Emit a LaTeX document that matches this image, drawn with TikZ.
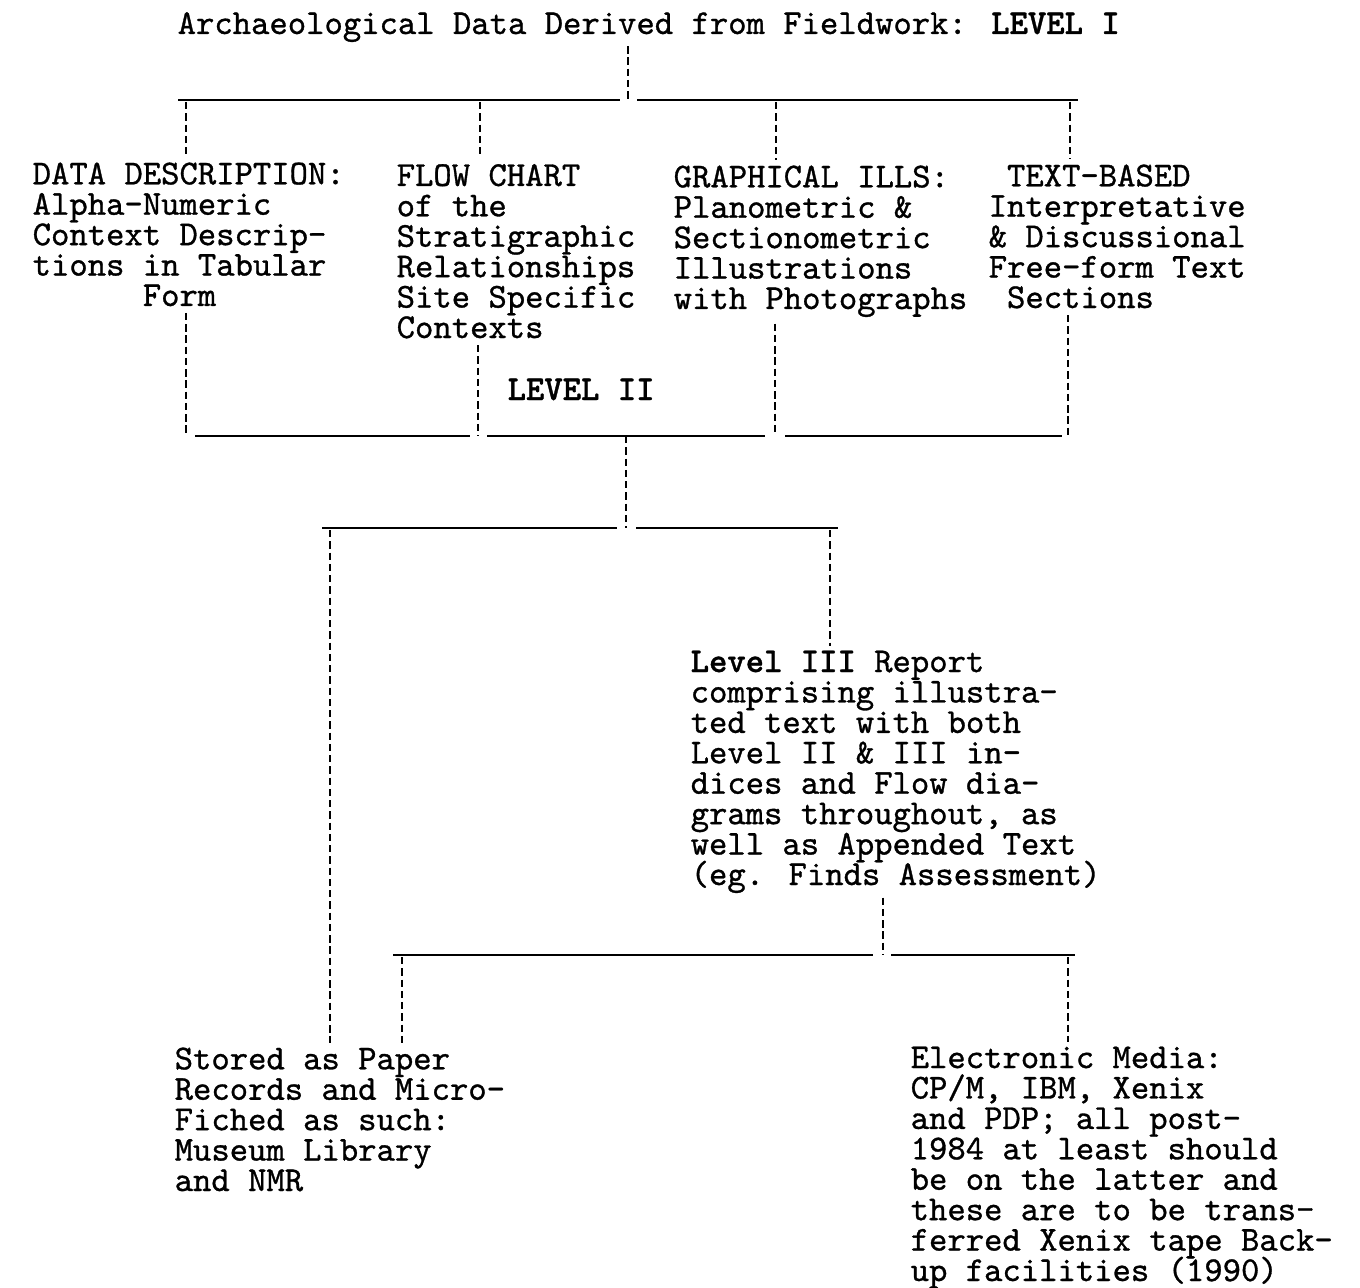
\documentclass[tikz,border=0pt]{standalone}
\usepackage{fontspec}
\setmainfont{lmmono10-regular.otf}[BoldFont=lmmonolt10-bold.otf, FakeBold=0.9]
\newcommand\typedlines{\fontsize{9.94}{8.65}\selectfont\lineskiplimit-20pt\relax}

\begin{document}
\begin{tikzpicture}[x=0.01cm, y=-0.01cm,
            txt/.style={anchor=base west, align=left, inner sep=0pt, font=\typedlines},
            bar/.style={line width=0.65pt},
            drop/.style={line width=0.55pt, dash pattern=on 2.1pt off 1.1pt}]
            \useasboundingbox (0, 0) rectangle (1360, 1288);

            \node [txt] (title) at (177, 34) {Archaeological Data Derived from Fieldwork: \textbf{LEVEL I}};

            \node [txt] (datadesc) at (32, 306) {DATA DESCRIPTION:\\Alpha-Numeric\\Context Descrip-\\tions in Tabular\\~~~~~~Form};
            \node [txt] (flowchart) at (396, 338) {FLOW CHART\\of the\\Stratigraphic\\Relationships\\Site Specific\\Contexts};
            \node [txt] (graphical) at (673, 309) {GRAPHICAL ILLS:\\Planometric \&\\Sectionometric\\Illustrations\\with Photographs};
            \node [txt] (textbased) at (988, 308) {~TEXT-BASED\\Interpretative\\\& Discussional\\Free-form Text\\~Sections};

            \node [txt] (leveltwo) at (507, 400) {\textbf{LEVEL II}};

            \node [txt] (levelthree) at (690, 885) {\textbf{Level III} Report\\comprising illustra-\\ted text with both\\Level II \& III in-\\dices and Flow dia-\\grams throughout, as\\well as Appended Text\\(eg. Finds Assessment)};

            \node [txt] (paper) at (174, 1191) {Stored as Paper\\Records and Micro-\\Fiched as such:\\Museum Library\\and NMR};
            \node [txt] (electronic) at (910, 1281) {Electronic Media:\\CP/M, IBM, Xenix\\and PDP; all post-\\1984 at least should\\be on the latter and\\these are to be trans-\\ferred Xenix tape Back-\\up facilities (1990)};

            \coordinate (j1) at (628, 100);
            \coordinate (b1 left) at (178, 100);
            \coordinate (b1 right) at (1078, 100);
            \draw [drop, shorten <=1pt] (title.south -| j1) -- (j1);
            \draw [bar, shorten >=0.08cm] (b1 left) -- (j1);
            \draw [bar, shorten <=0.09cm] (j1) -- (b1 right);
            \foreach \n/\x in {datadesc/186, flowchart/480, graphical/776, textbased/1070}
                {
                    \draw [drop, shorten >=1.5pt] (\x, 102) -- (\x, 102 |- \n.north);
                }

            \coordinate (d1) at (186, 436);
            \coordinate (d2) at (478, 436);
            \coordinate (d3) at (775, 436);
            \coordinate (d4) at (1068, 436);
            \foreach \n/\d in {datadesc/d1, flowchart/d2, graphical/d3, textbased/d4}
                {
                    \draw [drop, shorten <=0.06cm] (\n.south -| \d) -- (\d);
                }
            \draw [bar, shorten <=0.09cm, shorten >=0.08cm] (d1) -- (d2);
            \draw [bar, shorten <=0.09cm, shorten >=0.1cm] (d2) -- (d3);
            \draw [bar, shorten <=0.1cm, shorten >=0.06cm] (d3) -- (d4);

            \coordinate (j2) at (626, 436);
            \coordinate (j3) at (626, 528);
            \coordinate (b3 left) at (322, 528);
            \coordinate (b3 right) at (838, 528);
            \draw [drop] (j2) -- (j3);
            \draw [bar, shorten >=0.09cm] (b3 left) -- (j3);
            \draw [bar, shorten <=0.1cm] (j3) -- (b3 right);
            \draw [drop, shorten >=1pt] (330, 530) -- (330, 530 |- paper.north);
            \draw [drop, shorten >=1pt] (830, 530) -- (830, 530 |- levelthree.north);

            \coordinate (j4) at (883, 955);
            \coordinate (b4 left) at (393, 955);
            \coordinate (b4 right) at (1075, 955);
            \draw [drop, shorten <=0.04cm] (levelthree.south -| j4) -- (j4);
            \draw [bar, shorten >=0.1cm] (b4 left) -- (j4);
            \draw [bar, shorten <=0.08cm] (j4) -- (b4 right);
            \foreach \n/\x in {paper/402, electronic/1068}
                {
                    \draw [drop, shorten >=1pt] (\x, 957) -- (\x, 957 |- \n.north);
                }
\end{tikzpicture}
\end{document}
